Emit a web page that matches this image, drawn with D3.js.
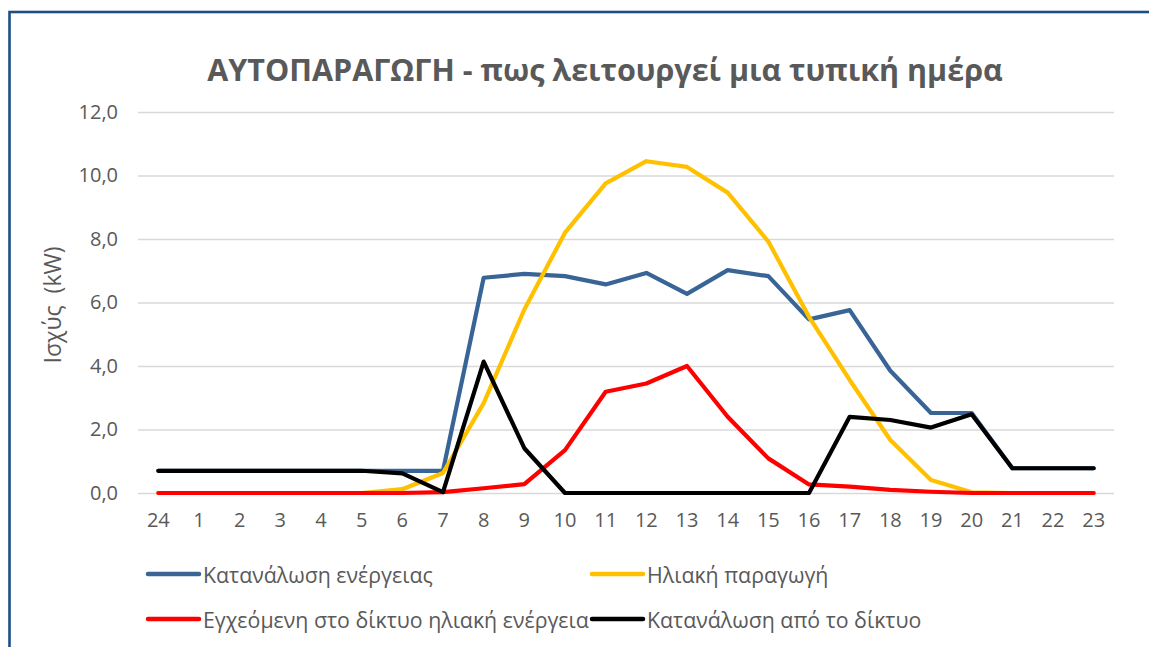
<!DOCTYPE html>
<html lang="el">
<head>
<meta charset="UTF-8">
<title>ΑΥΤΟΠΑΡΑΓΩΓΗ - πως λειτουργεί μια τυπική ημέρα</title>
<script src="https://cdnjs.cloudflare.com/ajax/libs/d3/7.8.5/d3.min.js"></script>
<style>
    body { margin: 0; background: #fff; font-family: "Open Sans", sans-serif; }
    svg { display: block; }
</style>
</head>
<body>
<svg id="chart" width="1149" height="647"></svg>
<script>
// values (kW per hour)
const hours = ["24","1","2","3","4","5","6","7","8","9","10","11","12","13","14","15","16","17","18","19","20","21","22","23"];
const consumption = [0.7,0.7,0.7,0.7,0.7,0.7,0.7,0.7,6.78,6.9,6.83,6.57,6.93,6.27,7.02,6.83,5.47,5.76,3.85,2.52,2.52,0.78,0.78,0.78];
const solar = [0,0,0,0,0,0,0.12,0.63,2.83,5.78,8.2,9.75,10.45,10.27,9.46,7.92,5.55,3.56,1.67,0.41,0.02,0,0,0];
const injected = [0,0,0,0,0,0,0,0.03,0.15,0.28,1.35,3.19,3.45,4.0,2.4,1.09,0.27,0.2,0.1,0.04,0,0,0,0];
const fromGrid = [0.7,0.7,0.7,0.7,0.7,0.7,0.62,0.03,4.14,1.41,0,0,0,0,0,0,0,2.4,2.3,2.06,2.48,0.78,0.78,0.78];
const yTicks = [0,2,4,6,8,10,12];
const seriesNames = ["Κατανάλωση ενέργειας","Ηλιακή παραγωγή","Εγχεόμενη στο δίκτυο ηλιακή ενέργεια","Κατανάλωση από το δίκτυο"];
const seriesColors = ["#386596","#FFC000","#FF0000","#000000"];
const series = [consumption, solar, injected, fromGrid];

const svg = d3.select("#chart");
const textColor = "#595959";

// outer frame
svg.append("rect")
    .attr("x", 9.5).attr("y", 12)
    .attr("width", 1200).attr("height", 700)
    .attr("fill", "none")
    .attr("stroke", "#1F4E85")
    .attr("stroke-width", 2.6);

// plot area
const plot = { left: 138, right: 1114, top: 112, bottom: 493 };

const x = d3.scaleBand().domain(hours).range([plot.left, plot.right]);
const y = d3.scaleLinear().domain([0, 12]).range([plot.bottom, plot.top]);
const cx = h => x(h) + x.bandwidth() / 2;

// grid + y axis
const yAxis = svg.append("g")
    .attr("transform", `translate(${plot.left},0)`)
    .call(d3.axisLeft(y).tickValues(yTicks)
        .tickSize(-(plot.right - plot.left)).tickPadding(20)
        .tickFormat(d => d.toFixed(1).replace(".", ",")));
yAxis.select(".domain").remove();
yAxis.selectAll("line").attr("stroke", "#d9d9d9").attr("stroke-width", 1.5);
yAxis.selectAll("text")
    .attr("fill", textColor)
    .attr("font-family", "Open Sans, sans-serif")
    .attr("font-size", 20);

// x axis
const xAxis = svg.append("g")
    .attr("transform", `translate(0,${plot.bottom})`)
    .call(d3.axisBottom(x).tickSize(0).tickPadding(20));
xAxis.select(".domain").remove();
xAxis.selectAll("text")
    .attr("fill", textColor)
    .attr("font-family", "Open Sans, sans-serif")
    .attr("font-size", 20);

// lines
const line = d3.line()
    .x((d, i) => cx(hours[i]))
    .y(d => y(d));

svg.append("g")
    .selectAll("path")
    .data(series)
    .join("path")
    .attr("d", line)
    .attr("fill", "none")
    .attr("stroke", (d, i) => seriesColors[i])
    .attr("stroke-width", 4.2)
    .attr("stroke-linejoin", "round")
    .attr("stroke-linecap", "round");

// title
const title = svg.append("text")
    .attr("x", 605).attr("y", 81)
    .attr("text-anchor", "middle")
    .attr("font-family", "Open Sans, sans-serif")
    .attr("font-weight", "bold")
    .attr("font-size", 28)
    .attr("fill", textColor)
    .text("ΑΥΤΟΠΑΡΑΓΩΓΗ - πως λειτουργεί μια τυπική ημέρα");
// squeeze to the reference width
const tw = title.node().getComputedTextLength();
title.attr("font-size", 28 * 796 / tw);

// y axis title
svg.append("text")
    .attr("transform", "translate(52,305) rotate(-90)")
    .attr("text-anchor", "middle")
    .attr("dominant-baseline", "central")
    .attr("font-family", "Open Sans, sans-serif")
    .attr("font-size", 23)
    .attr("fill", textColor)
    .text("Ισχύς\u00A0 (kW)");

// legend (2 x 2)
const legendPos = [[148, 574], [592, 574], [148, 619], [592, 619]];
const legend = svg.append("g");
seriesNames.forEach((name, i) => {
    const [lx, ly] = legendPos[i];
    const g = legend.append("g").attr("transform", `translate(${lx},${ly})`);
    g.append("line")
        .attr("x1", 0).attr("x2", 51)
        .attr("stroke", seriesColors[i])
        .attr("stroke-width", 4.5)
        .attr("stroke-linecap", "round");
    g.append("text")
        .attr("class", "legend-label")
        .attr("x", 55)
        .attr("dominant-baseline", "central")
        .attr("font-family", "Open Sans, sans-serif")
        .attr("font-size", 19)
        .attr("fill", textColor)
        .text(name);
});
// one font size for all legend labels, set from the longest one
const longest = legend.selectAll(".legend-label").filter((d, i) => i === 2).node();
const lw = longest.getComputedTextLength();
legend.selectAll(".legend-label").attr("font-size", 19 * 386 / lw);
</script>
</body>
</html>
